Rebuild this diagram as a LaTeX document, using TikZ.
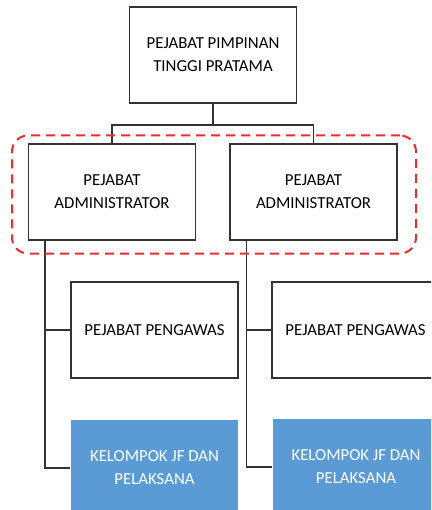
\documentclass[tikz,border=0pt]{standalone}
\usepackage{fontspec}
\setmainfont{Carlito}
\definecolor{linegray}{HTML}{333333}
\definecolor{boxblue}{HTML}{5B9BD5}
\definecolor{dashred}{HTML}{F52A2A}
\begin{document}
\begin{tikzpicture}[x=1pt,y=-1pt,
  box/.style={draw=linegray,line width=1.3pt,fill=white,minimum width=167pt,minimum height=96pt,align=center,inner sep=0pt,font=\fontsize{16.8}{23}\selectfont},
  bluebox/.style={box,draw=none,fill=boxblue,text=white},
  conn/.style={draw=linegray,line width=1.3pt}]
\clip (0,0) rectangle (431,510);
\fill[white] (0,0) rectangle (431,510);
\node[box] (top) at (213,55) {PEJABAT PIMPINAN\\TINGGI PRATAMA};
\node[box] (admL) at (112,192) {PEJABAT\\ADMINISTRATOR};
\node[box] (admR) at (313.5,192) {PEJABAT\\ADMINISTRATOR};
\node[box] (pengL) at (154.5,330) {PEJABAT PENGAWAS};
\node[box] (pengR) at (355.5,330) {PEJABAT PENGAWAS};
\node[bluebox] (blueL) at (154.5,468) {KELOMPOK JF DAN\\PELAKSANA};
\node[bluebox] (blueR) at (356,467) {KELOMPOK JF DAN\\PELAKSANA};
\coordinate (aL) at ([xshift=17pt]admL.south west);
\coordinate (aR) at ([xshift=17pt]admR.south west);
\coordinate (split) at (213,125);
\draw[conn] (top.south) -- (split);
\draw[conn] (split) -| (admL.north);
\draw[conn] (split) -| (admR.north);
\draw[conn] (aL) |- (pengL.west);
\draw[conn] (aL) |- (blueL.west);
\draw[conn] (aR) |- (pengR.west);
\draw[conn] (aR) |- (blueR.west);
\node[draw=dashred,line width=2pt,dash pattern=on 9pt off 6pt,rounded corners=16pt,minimum width=404pt,minimum height=118pt,inner sep=0pt] (group) at (214,194.5) {};
\end{tikzpicture}
\end{document}
